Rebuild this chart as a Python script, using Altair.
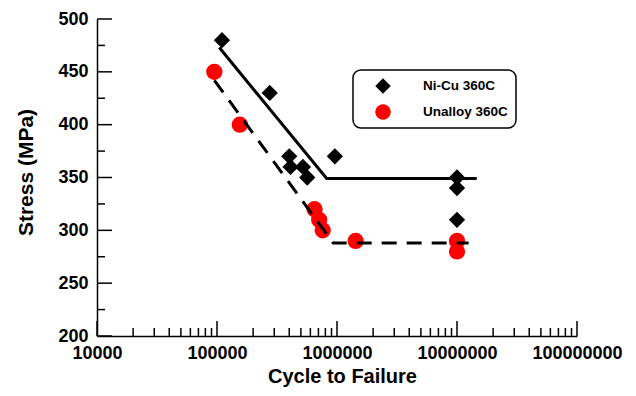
import altair as alt
import pandas as pd

# ---- data ----
series_names = ["Ni-Cu 360C", "Unalloy 360C"]

nicu_cycles = [1.1e5, 2.75e5, 4.0e5, 4.1e5, 5.2e5, 5.65e5, 9.6e5, 1e7, 1e7, 1e7]
nicu_stress = [480, 430, 370, 360, 360, 350, 370, 350, 340, 310]

unal_cycles = [9.5e4, 1.55e5, 6.5e5, 7.1e5, 7.6e5, 1.43e6, 1e7, 1e7]
unal_stress = [450, 400, 320, 310, 300, 290, 290, 280]

nicu_fit_cycles = [1.045e5, 8.2e5, 1.46e7]
nicu_fit_stress = [473, 349, 349]

unal_fit_cycles = [9.5e4, 9.3e5, 1.25e7]
unal_fit_stress = [442, 288, 288]

# axis ticks
x_major = [1e4, 1e5, 1e6, 1e7, 1e8]
x_decades = [1e4, 1e5, 1e6, 1e7]
x_minor_mult = [2, 3, 4, 5, 6, 7, 8, 9]
y_major = [200, 250, 300, 350, 400, 450, 500]
y_minor = [225, 275, 325, 375, 425, 475]

W, H = 480, 317
FONT = "Liberation Sans"

pts = pd.DataFrame({
    "cycles": nicu_cycles + unal_cycles,
    "stress": nicu_stress + unal_stress,
    "series": [series_names[0]] * len(nicu_cycles) + [series_names[1]] * len(unal_cycles),
})
fit_a = pd.DataFrame({"cycles": nicu_fit_cycles, "stress": nicu_fit_stress})
fit_b = pd.DataFrame({"cycles": unal_fit_cycles, "stress": unal_fit_stress})

xt_major = pd.DataFrame({"cycles": x_major})
xt_minor = pd.DataFrame({"cycles": [d * m for d in x_decades for m in x_minor_mult]})
yt_major = pd.DataFrame({"stress": y_major})
yt_minor = pd.DataFrame({"stress": y_minor})

xscale = alt.Scale(type="log", domain=[1e4, 1e8])
yscale = alt.Scale(domain=[200, 500], nice=False, zero=False)

xaxis = alt.Axis(values=x_major, format="d", labelFlush=False, labelOverlap=False,
                 labelPadding=8, titleX=245, titleY=40, titleBaseline="middle")
yaxis = alt.Axis(values=y_major, labelPadding=9, titleX=-71, titleY=153,
                 titleAngle=270, titleAlign="center", titleBaseline="middle")

X = alt.X("cycles:Q", scale=xscale, axis=xaxis, title="Cycle to Failure")
Y = alt.Y("stress:Q", scale=yscale, axis=yaxis, title="Stress (MPa)")

points = alt.Chart(pts).mark_point(filled=True, size=265, opacity=1).encode(
    x=X, y=Y,
    color=alt.Color("series:N", scale=alt.Scale(domain=series_names, range=["#000000", "#ff0000"]),
                    legend=alt.Legend(title=None)),
    shape=alt.Shape("series:N", scale=alt.Scale(domain=series_names, range=["diamond", "circle"]),
                    legend=alt.Legend(title=None)),
)

line_a = alt.Chart(fit_a).mark_line(color="black", strokeWidth=3).encode(x=X, y=Y)
line_b = alt.Chart(fit_b).mark_line(color="black", strokeWidth=3, strokeDash=[15, 10]).encode(x=X, y=Y)

def xticks(df, length):
    return alt.Chart(df).mark_rule(color="black", strokeWidth=1.5).encode(
        x=X, y=alt.value(H), y2=alt.value(H - length),
    )

def yticks(df, length):
    return alt.Chart(df).mark_rule(color="black", strokeWidth=1.5).encode(
        y=Y, x=alt.value(0), x2=alt.value(length),
    )

chart = alt.layer(
    points, line_a, line_b,
    xticks(xt_major, 15), xticks(xt_minor, 8),
    yticks(yt_major, 15), yticks(yt_minor, 8),
).properties(
    width=W, height=H,
    padding={"left": 89, "top": 11, "right": 51, "bottom": 52},
    autosize=alt.AutoSizeParams(type="none"),
).configure_view(
    strokeWidth=0
).configure_axis(
    grid=False, ticks=False,
    domainColor="black", domainWidth=1.5,
    labelFont=FONT, labelFontWeight="bold", labelFontSize=18, labelColor="black",
    titleFont=FONT, titleFontWeight="bold", titleFontSize=21, titleColor="black",
).configure_axisX(
    titleFontSize=20,
).configure_legend(
    orient="none", legendX=256, legendY=51,
    strokeColor="black", strokeWidth=1.5, cornerRadius=8, padding=8,
    labelFont=FONT, labelFontWeight="bold", labelFontSize=13.5, labelColor="black",
    symbolSize=240, symbolStrokeWidth=0, symbolOffset=14, labelOffset=32,
    rowPadding=10,
)

chart.save("out.html", embed_options={"renderer": "svg", "actions": False})
